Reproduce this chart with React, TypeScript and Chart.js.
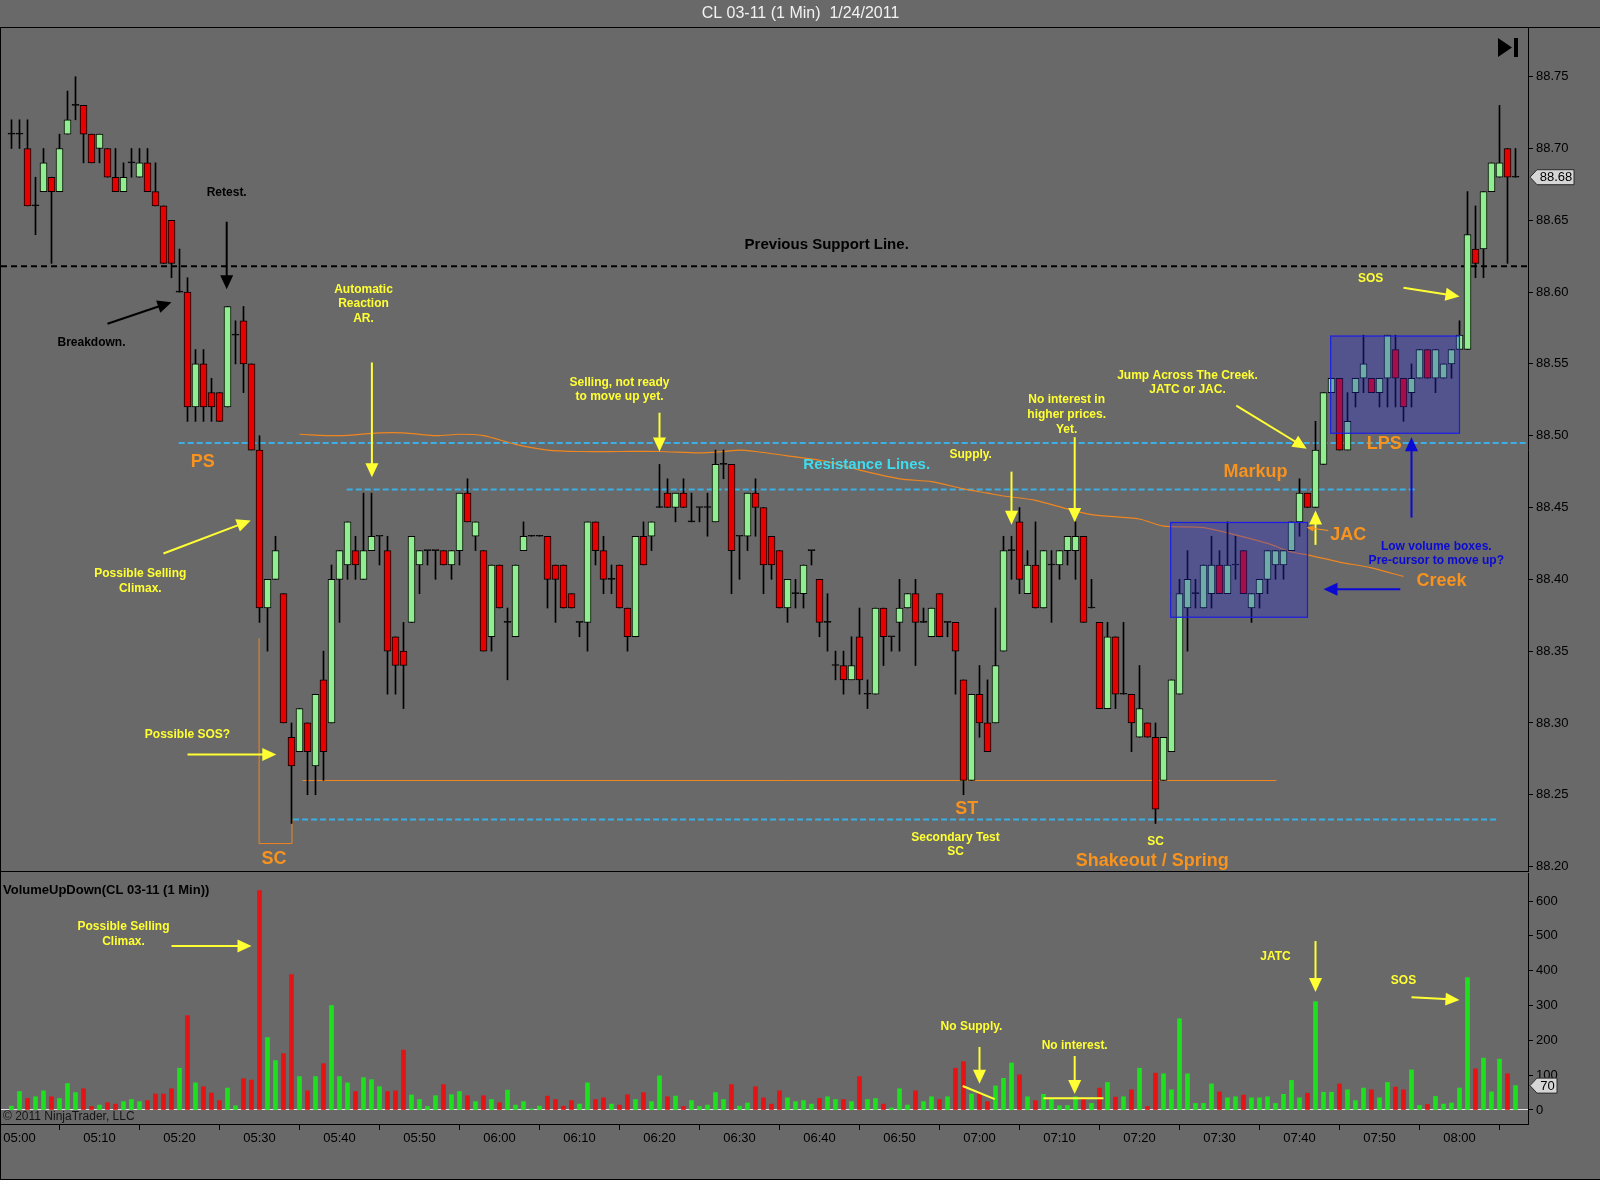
import React, { useEffect, useRef } from 'react';
import { Chart, registerables } from 'chart.js';

Chart.register(...registerables);

const FAMILY = "'Liberation Sans', Arial, Helvetica, sans-serif";
Chart.defaults.font.family = FAMILY;
Chart.defaults.color = '#000';

const TITLE = 'CL 03-11 (1 Min)  1/24/2011';
const VOLUME_TITLE = 'VolumeUpDown(CL 03-11 (1 Min))';
const COPYRIGHT = '\u00A9 2011 NinjaTrader, LLC';

// first bar is 04:59 (minute -1 relative to 05:00)
const FIRST_MINUTE = -1;

const opens = [
  88.71, 88.71, 88.70, 88.66, 88.67, 88.68, 88.67, 88.71, 88.73, 88.73,
  88.71, 88.70, 88.70, 88.68, 88.67, 88.69, 88.68, 88.69, 88.67, 88.66,
  88.65, 88.60, 88.60, 88.52, 88.55, 88.53, 88.53, 88.52, 88.57, 88.58,
  88.55, 88.49, 88.38, 88.40, 88.39, 88.29, 88.28, 88.30, 88.27, 88.33,
  88.30, 88.40, 88.41, 88.42, 88.40, 88.42, 88.43, 88.42, 88.36, 88.35,
  88.37, 88.41, 88.42, 88.42, 88.42, 88.41, 88.42, 88.46, 88.43, 88.42,
  88.36, 88.41, 88.37, 88.36, 88.42, 88.43, 88.43, 88.43, 88.41, 88.41,
  88.39, 88.37, 88.37, 88.44, 88.42, 88.40, 88.41, 88.38, 88.36, 88.43,
  88.43, 88.45, 88.46, 88.45, 88.46, 88.44, 88.45, 88.45, 88.44, 88.48,
  88.48, 88.43, 88.43, 88.46, 88.45, 88.43, 88.42, 88.38, 88.39, 88.39,
  88.42, 88.40, 88.37, 88.34, 88.34, 88.33, 88.36, 88.32, 88.32, 88.38,
  88.36, 88.37, 88.38, 88.39, 88.37, 88.36, 88.39, 88.37, 88.37, 88.33,
  88.26, 88.32, 88.30, 88.30, 88.35, 88.42, 88.44, 88.39, 88.41, 88.38,
  88.41, 88.41, 88.42, 88.42, 88.43, 88.38, 88.37, 88.31, 88.36, 88.32,
  88.32, 88.29, 88.30, 88.29, 88.26, 88.28, 88.32, 88.38, 88.39, 88.38,
  88.39, 88.41, 88.39, 88.41, 88.42, 88.38, 88.39, 88.40, 88.41, 88.41,
  88.42, 88.44, 88.46, 88.45, 88.48, 88.53, 88.54, 88.49, 88.53, 88.54,
  88.54, 88.53, 88.54, 88.56, 88.54, 88.53, 88.54, 88.56, 88.54, 88.54,
  88.55, 88.56, 88.56, 88.63, 88.63, 88.67, 88.68, 88.70, 88.68,
];

const highs = [
  88.72, 88.72, 88.72, 88.68, 88.70, 88.68, 88.71, 88.74, 88.75, 88.73,
  88.71, 88.71, 88.70, 88.70, 88.69, 88.70, 88.70, 88.70, 88.69, 88.66,
  88.65, 88.63, 88.61, 88.56, 88.56, 88.54, 88.53, 88.59, 88.58, 88.59,
  88.55, 88.50, 88.40, 88.43, 88.39, 88.30, 88.31, 88.30, 88.32, 88.35,
  88.41, 88.42, 88.44, 88.43, 88.46, 88.46, 88.43, 88.43, 88.36, 88.37,
  88.43, 88.42, 88.42, 88.42, 88.42, 88.42, 88.46, 88.47, 88.44, 88.42,
  88.41, 88.41, 88.38, 88.41, 88.44, 88.43, 88.43, 88.43, 88.41, 88.41,
  88.39, 88.37, 88.44, 88.44, 88.43, 88.41, 88.41, 88.38, 88.43, 88.44,
  88.44, 88.48, 88.47, 88.46, 88.47, 88.46, 88.45, 88.46, 88.49, 88.49,
  88.48, 88.43, 88.46, 88.47, 88.45, 88.43, 88.42, 88.40, 88.40, 88.41,
  88.42, 88.40, 88.39, 88.35, 88.35, 88.36, 88.38, 88.33, 88.38, 88.38,
  88.36, 88.40, 88.39, 88.40, 88.38, 88.38, 88.39, 88.37, 88.37, 88.33,
  88.32, 88.34, 88.33, 88.38, 88.43, 88.43, 88.45, 88.42, 88.44, 88.42,
  88.42, 88.42, 88.43, 88.44, 88.43, 88.40, 88.37, 88.37, 88.36, 88.37,
  88.32, 88.34, 88.30, 88.30, 88.29, 88.33, 88.40, 88.42, 88.40, 88.41,
  88.43, 88.42, 88.44, 88.43, 88.42, 88.39, 88.40, 88.42, 88.42, 88.42,
  88.44, 88.47, 88.46, 88.51, 88.53, 88.54, 88.54, 88.53, 88.54, 88.57,
  88.54, 88.54, 88.57, 88.57, 88.54, 88.55, 88.56, 88.56, 88.56, 88.55,
  88.56, 88.58, 88.67, 88.66, 88.67, 88.69, 88.73, 88.70, 88.70,
];

const lows = [
  88.70, 88.70, 88.66, 88.64, 88.67, 88.62, 88.67, 88.71, 88.72, 88.69,
  88.69, 88.69, 88.68, 88.67, 88.67, 88.68, 88.68, 88.67, 88.66, 88.62,
  88.61, 88.60, 88.51, 88.51, 88.51, 88.51, 88.51, 88.52, 88.55, 88.53,
  88.49, 88.37, 88.35, 88.40, 88.30, 88.23, 88.28, 88.25, 88.25, 88.26,
  88.30, 88.37, 88.40, 88.40, 88.40, 88.42, 88.41, 88.32, 88.32, 88.31,
  88.37, 88.39, 88.41, 88.40, 88.41, 88.40, 88.41, 88.44, 88.42, 88.35,
  88.35, 88.38, 88.33, 88.36, 88.42, 88.43, 88.43, 88.38, 88.37, 88.38,
  88.38, 88.36, 88.35, 88.41, 88.39, 88.39, 88.38, 88.35, 88.36, 88.41,
  88.42, 88.45, 88.45, 88.44, 88.45, 88.44, 88.44, 88.43, 88.44, 88.47,
  88.39, 88.40, 88.42, 88.43, 88.39, 88.40, 88.38, 88.37, 88.38, 88.38,
  88.41, 88.36, 88.35, 88.33, 88.32, 88.33, 88.32, 88.31, 88.32, 88.34,
  88.35, 88.35, 88.38, 88.34, 88.37, 88.36, 88.36, 88.36, 88.32, 88.25,
  88.26, 88.29, 88.28, 88.30, 88.35, 88.40, 88.39, 88.39, 88.38, 88.38,
  88.37, 88.40, 88.41, 88.40, 88.37, 88.38, 88.31, 88.31, 88.31, 88.32,
  88.28, 88.29, 88.29, 88.23, 88.26, 88.28, 88.32, 88.35, 88.38, 88.38,
  88.38, 88.39, 88.39, 88.40, 88.39, 88.37, 88.38, 88.39, 88.40, 88.40,
  88.42, 88.43, 88.45, 88.45, 88.48, 88.53, 88.49, 88.49, 88.52, 88.53,
  88.53, 88.52, 88.52, 88.52, 88.51, 88.52, 88.54, 88.54, 88.53, 88.54,
  88.54, 88.56, 88.56, 88.61, 88.61, 88.67, 88.68, 88.62, 88.68,
];

const closes = [
  88.71, 88.71, 88.66, 88.66, 88.69, 88.67, 88.70, 88.72, 88.73, 88.71,
  88.69, 88.71, 88.68, 88.67, 88.68, 88.69, 88.69, 88.67, 88.66, 88.62,
  88.62, 88.60, 88.52, 88.55, 88.52, 88.52, 88.51, 88.59, 88.57, 88.55,
  88.49, 88.38, 88.40, 88.42, 88.30, 88.27, 88.31, 88.28, 88.32, 88.28,
  88.40, 88.42, 88.44, 88.41, 88.42, 88.43, 88.43, 88.35, 88.34, 88.34,
  88.43, 88.42, 88.42, 88.42, 88.41, 88.42, 88.46, 88.44, 88.44, 88.35,
  88.41, 88.38, 88.37, 88.41, 88.43, 88.43, 88.43, 88.40, 88.40, 88.38,
  88.38, 88.37, 88.44, 88.42, 88.40, 88.40, 88.38, 88.36, 88.43, 88.41,
  88.44, 88.45, 88.45, 88.46, 88.45, 88.44, 88.45, 88.45, 88.48, 88.48,
  88.42, 88.43, 88.46, 88.45, 88.41, 88.41, 88.38, 88.40, 88.39, 88.41,
  88.42, 88.37, 88.37, 88.34, 88.33, 88.34, 88.33, 88.32, 88.38, 88.36,
  88.36, 88.38, 88.39, 88.37, 88.37, 88.38, 88.36, 88.37, 88.35, 88.26,
  88.32, 88.30, 88.28, 88.34, 88.42, 88.42, 88.40, 88.41, 88.38, 88.42,
  88.41, 88.42, 88.43, 88.43, 88.37, 88.38, 88.31, 88.36, 88.32, 88.32,
  88.30, 88.31, 88.29, 88.24, 88.29, 88.33, 88.39, 88.40, 88.39, 88.41,
  88.41, 88.39, 88.41, 88.41, 88.39, 88.39, 88.40, 88.42, 88.42, 88.42,
  88.44, 88.46, 88.45, 88.49, 88.53, 88.54, 88.49, 88.51, 88.54, 88.55,
  88.53, 88.54, 88.57, 88.54, 88.52, 88.54, 88.56, 88.54, 88.56, 88.55,
  88.56, 88.57, 88.64, 88.62, 88.67, 88.69, 88.69, 88.68, 88.68,
];

const volumes = [
  11, 53, 33, 38, 55, 38, 33, 76, 50, 61,
  10, 14, 21, 17, 24, 30, 24, 27, 46, 46,
  61, 120, 271, 78, 67, 49, 27, 63, 12, 90,
  86, 630, 208, 142, 162, 389, 96, 55, 96, 133,
  300, 96, 78, 53, 93, 87, 67, 53, 55, 172,
  43, 30, 10, 41, 73, 44, 53, 41, 24, 41,
  30, 21, 57, 14, 24, 3, 11, 40, 30, 11,
  27, 17, 78, 30, 35, 17, 14, 44, 30, 50,
  24, 98, 38, 40, 10, 27, 10, 14, 50, 30,
  73, 11, 20, 67, 35, 17, 55, 35, 24, 27,
  17, 33, 38, 30, 30, 24, 96, 30, 33, 17,
  6, 61, 14, 55, 24, 38, 30, 38, 120, 139,
  46, 48, 24, 69, 91, 135, 101, 38, 27, 45,
  31, 12, 13, 38, 31, 19, 63, 79, 37, 38,
  58, 120, 10, 106, 104, 58, 262, 104, 19, 19,
  75, 52, 35, 38, 43, 35, 35, 38, 19, 45,
  85, 35, 48, 311, 51, 51, 75, 58, 27, 63,
  58, 35, 79, 66, 58, 115, 13, 16, 39, 17,
  20, 63, 380, 118, 149, 52, 146, 104, 70,
];

// orange average line (minute, price)
const maMinutes = [35, 40, 45, 48, 52, 55, 58, 62, 66, 70, 75, 80, 85, 88, 90, 92, 96, 101, 105, 110, 114, 118, 121, 123, 127, 131, 134, 140, 143, 148, 152, 156, 159, 161, 165, 169, 173];
const maValues = [88.501, 88.500, 88.502, 88.502, 88.500, 88.501, 88.500, 88.494, 88.490, 88.489, 88.489, 88.489, 88.488, 88.489, 88.490, 88.489, 88.486, 88.482, 88.476, 88.470, 88.468, 88.463, 88.460, 88.458, 88.455, 88.449, 88.445, 88.442, 88.437, 88.436, 88.431, 88.425, 88.419, 88.417, 88.412, 88.408, 88.402];

const timeTickMinutes = [0, 10, 20, 30, 40, 50, 60, 70, 80, 90, 100, 110, 120, 130, 140, 150, 160, 170, 180];
const timeTickLabels = ['05:00', '05:10', '05:20', '05:30', '05:40', '05:50', '06:00', '06:10', '06:20', '06:30', '06:40', '06:50', '07:00', '07:10', '07:20', '07:30', '07:40', '07:50', '08:00'];
const priceTicks = [88.2, 88.25, 88.3, 88.35, 88.4, 88.45, 88.5, 88.55, 88.6, 88.65, 88.7, 88.75];
const volumeTicks = [0, 100, 200, 300, 400, 500, 600];

// horizontal levels drawn on the chart
const PREVIOUS_SUPPORT = 88.618;
const RESISTANCE_UPPER = 88.495;
const RESISTANCE_LOWER = 88.4626;
const SC_LOW_LEVEL = 88.2328;
const SPRING_LEVEL = 88.26;

// axis windows
const X_MIN = -2.3125;
const X_MAX = 188.5625;
const PRICE_MIN = 88.1962;
const PRICE_MAX = 88.7839;
const VOL_MIN = -40.2;
const VOL_MAX = 680.4;

const YEL = '#ffff33';
const ORA = '#f7931e';
const BLU = '#0a0ad2';
const CYA = '#3fdcf0';
const BLK = '#000000';

type Note = { lines: string[]; t: number; v: number; color: string; size: number; lh?: number };
type Arrow = { t1: number; v1: number; t2: number; v2: number; color: string; w?: number; head?: number; hw?: number };

const priceNotes: Note[] = [
  { lines: ['Retest.'], t: 25.9, v: 88.669, color: BLK, size: 12 },
  { lines: ['Breakdown.'], t: 9.0, v: 88.565, color: BLK, size: 12 },
  { lines: ['Previous Support Line.'], t: 100.9, v: 88.633, color: BLK, size: 15 },
  { lines: ['Automatic', 'Reaction', 'AR.'], t: 43.0, v: 88.602, color: YEL, size: 12, lh: 14.5 },
  { lines: ['Possible Selling', 'Climax.'], t: 15.1, v: 88.404, color: YEL, size: 12, lh: 15 },
  { lines: ['Possible SOS?'], t: 21.0, v: 88.292, color: YEL, size: 12 },
  { lines: ['Selling, not ready', 'to move up yet.'], t: 75.0, v: 88.537, color: YEL, size: 12, lh: 14.5 },
  { lines: ['Supply.'], t: 118.9, v: 88.487, color: YEL, size: 12 },
  { lines: ['No interest in', 'higher prices.', 'Yet.'], t: 130.9, v: 88.525, color: YEL, size: 12, lh: 14.8 },
  { lines: ['Jump Across The Creek.', 'JATC or JAC.'], t: 146.0, v: 88.542, color: YEL, size: 12, lh: 14.5 },
  { lines: ['SOS'], t: 168.9, v: 88.609, color: YEL, size: 12 },
  { lines: ['Secondary Test', 'SC'], t: 117.0, v: 88.22, color: YEL, size: 12, lh: 14 },
  { lines: ['SC'], t: 142.0, v: 88.217, color: YEL, size: 12 },
  { lines: ['PS'], t: 22.9, v: 88.482, color: ORA, size: 18 },
  { lines: ['SC'], t: 31.8, v: 88.205, color: ORA, size: 18 },
  { lines: ['ST'], t: 118.4, v: 88.24, color: ORA, size: 18 },
  { lines: ['Shakeout / Spring'], t: 141.6, v: 88.204, color: ORA, size: 18 },
  { lines: ['Markup'], t: 154.5, v: 88.475, color: ORA, size: 18 },
  { lines: ['JAC'], t: 166.1, v: 88.431, color: ORA, size: 18 },
  { lines: ['LPS'], t: 170.6, v: 88.494, color: ORA, size: 18 },
  { lines: ['Creek'], t: 177.75, v: 88.399, color: ORA, size: 18 },
  { lines: ['Resistance Lines.'], t: 105.9, v: 88.48, color: CYA, size: 15 },
  { lines: ['Low volume boxes.', 'Pre-cursor to move up?'], t: 177.1, v: 88.423, color: BLU, size: 12, lh: 14 },
];

const priceArrows: Arrow[] = [
  { t1: 25.9, v1: 88.649, t2: 25.9, v2: 88.602, color: BLK },
  { t1: 11, v1: 88.578, t2: 19, v2: 88.593, color: BLK },
  { t1: 44.05, v1: 88.551, t2: 44.05, v2: 88.471, color: YEL },
  { t1: 18, v1: 88.418, t2: 28.9, v2: 88.441, color: YEL },
  { t1: 21, v1: 88.278, t2: 32.1, v2: 88.278, color: YEL },
  { t1: 80, v1: 88.516, t2: 80, v2: 88.489, color: YEL },
  { t1: 124, v1: 88.475, t2: 124, v2: 88.438, color: YEL },
  { t1: 131.9, v1: 88.499, t2: 131.9, v2: 88.44, color: YEL },
  { t1: 152.1, v1: 88.521, t2: 160.9, v2: 88.491, color: YEL },
  { t1: 173, v1: 88.603, t2: 180, v2: 88.597, color: YEL },
  { t1: 162, v1: 88.424, t2: 162, v2: 88.448, color: YEL },
  { t1: 172.6, v1: 88.393, t2: 163, v2: 88.393, color: BLU },
  { t1: 174, v1: 88.443, t2: 174, v2: 88.499, color: BLU },
  { t1: 163.6, v1: 88.434, t2: 160.9, v2: 88.436, color: ORA, w: 1.2, head: 7, hw: 3 },
];

const boxes = [
  { t1: 143.9, t2: 161.0, p1: 88.3736, p2: 88.4396 },
  { t1: 163.9, t2: 180.0, p1: 88.5017, p2: 88.5694 },
];

const volumeNotes: Note[] = [
  { lines: ['Possible Selling', 'Climax.'], t: 13, v: 527, color: YEL, size: 12, lh: 15 },
  { lines: ['No Supply.'], t: 119, v: 240, color: YEL, size: 12 },
  { lines: ['No interest.'], t: 131.9, v: 184, color: YEL, size: 12 },
  { lines: ['JATC'], t: 157, v: 439, color: YEL, size: 12 },
  { lines: ['SOS'], t: 173, v: 370, color: YEL, size: 12 },
];

const volumeArrows: Arrow[] = [
  { t1: 19, v1: 471, t2: 29, v2: 471, color: YEL },
  { t1: 120, v1: 181, t2: 120, v2: 75, color: YEL },
  { t1: 131.9, v1: 155, t2: 131.9, v2: 46, color: YEL },
  { t1: 162, v1: 485, t2: 162, v2: 339, color: YEL },
  { t1: 174, v1: 324, t2: 180, v2: 316, color: YEL },
];

const volumeLines = [
  { t1: 117.9, v1: 69, t2: 121.9, v2: 31 },
  { t1: 128, v1: 34, t2: 135.5, v2: 34 },
];

function drawArrow(ctx: CanvasRenderingContext2D, x1: number, y1: number, x2: number, y2: number, color: string, w = 2, head = 14, hw = 6.5) {
  const a = Math.atan2(y2 - y1, x2 - x1);
  const bx = x2 - Math.cos(a) * head;
  const by = y2 - Math.sin(a) * head;
  ctx.save();
  ctx.strokeStyle = color;
  ctx.lineWidth = w;
  ctx.beginPath();
  ctx.moveTo(x1, y1);
  ctx.lineTo(x2 - Math.cos(a) * head * 0.7, y2 - Math.sin(a) * head * 0.7);
  ctx.stroke();
  ctx.fillStyle = color;
  ctx.beginPath();
  ctx.moveTo(x2, y2);
  ctx.lineTo(bx + Math.sin(a) * hw, by - Math.cos(a) * hw);
  ctx.lineTo(bx - Math.sin(a) * hw, by + Math.cos(a) * hw);
  ctx.closePath();
  ctx.fill();
  ctx.restore();
}

function drawNotes(ctx: CanvasRenderingContext2D, xs: any, ys: any, notes: Note[]) {
  ctx.save();
  ctx.textAlign = 'center';
  ctx.textBaseline = 'middle';
  for (const n of notes) {
    ctx.font = `bold ${n.size}px ${FAMILY}`;
    ctx.fillStyle = n.color;
    const x = xs.getPixelForValue(n.t);
    const y = ys.getPixelForValue(n.v);
    n.lines.forEach((s, i) => ctx.fillText(s, x, y + i * (n.lh || n.size * 1.2)));
  }
  ctx.restore();
}

function drawArrows(ctx: CanvasRenderingContext2D, xs: any, ys: any, arrows: Arrow[]) {
  for (const a of arrows) {
    drawArrow(ctx, xs.getPixelForValue(a.t1), ys.getPixelForValue(a.v1), xs.getPixelForValue(a.t2), ys.getPixelForValue(a.v2), a.color, a.w || 2, a.head || 14, a.hw || 6.5);
  }
}

function drawMarker(ctx: CanvasRenderingContext2D, x0: number, y: number, w: number, text: string) {
  ctx.save();
  ctx.beginPath();
  ctx.moveTo(x0, y);
  ctx.lineTo(x0 + 7, y - 7.5);
  ctx.lineTo(x0 + w, y - 7.5);
  ctx.lineTo(x0 + w, y + 7.5);
  ctx.lineTo(x0 + 7, y + 7.5);
  ctx.closePath();
  ctx.fillStyle = '#d6d6d6';
  ctx.fill();
  ctx.strokeStyle = '#2a2a2a';
  ctx.lineWidth = 1;
  ctx.stroke();
  ctx.fillStyle = '#000';
  ctx.font = `13px ${FAMILY}`;
  ctx.textAlign = 'center';
  ctx.textBaseline = 'middle';
  ctx.fillText(text, x0 + 4 + w / 2, y + 0.5);
  ctx.restore();
}

const BG = '#696969';

const priceDecor = {
  id: 'priceDecor',
  beforeDraw(chart: any) {
    const { ctx, width, height } = chart;
    ctx.save();
    ctx.fillStyle = BG;
    ctx.fillRect(0, 0, width, height);
    ctx.restore();
  },
  beforeDatasetsDraw(chart: any) {
    const { ctx, chartArea } = chart;
    const xs = chart.scales.x;
    const ys = chart.scales.y;
    const X = (t: number) => xs.getPixelForValue(t);
    const Y = (p: number) => ys.getPixelForValue(p);
    ctx.save();
    // previous support (black dashed)
    ctx.strokeStyle = '#000';
    ctx.lineWidth = 2;
    ctx.setLineDash([6, 4]);
    ctx.beginPath();
    ctx.moveTo(chartArea.left, Y(PREVIOUS_SUPPORT));
    ctx.lineTo(chartArea.right, Y(PREVIOUS_SUPPORT));
    ctx.stroke();
    // cyan dashed resistance / low lines
    ctx.strokeStyle = '#3ab0e6';
    ctx.setLineDash([6, 3]);
    const cyanLines = [
      [RESISTANCE_UPPER, 19.9, X_MAX],
      [RESISTANCE_LOWER, 40.9, 174.6],
      [SC_LOW_LEVEL, 34.2, 184.7],
    ];
    for (const [p, a, b] of cyanLines) {
      ctx.beginPath();
      ctx.moveTo(X(a), Y(p));
      ctx.lineTo(X(b), Y(p));
      ctx.stroke();
    }
    ctx.setLineDash([]);
    // orange spring line and SC bracket
    ctx.strokeStyle = '#f0861f';
    ctx.lineWidth = 1;
    ctx.beginPath();
    ctx.moveTo(X(35.4), Math.round(Y(SPRING_LEVEL)) + 0.5);
    ctx.lineTo(X(157.1), Math.round(Y(SPRING_LEVEL)) + 0.5);
    ctx.stroke();
    ctx.beginPath();
    ctx.moveTo(X(29.95), Y(88.359));
    ctx.lineTo(X(29.95), Y(88.216));
    ctx.lineTo(X(34.06), Y(88.216));
    ctx.lineTo(X(34.06), Y(SC_LOW_LEVEL));
    ctx.stroke();
    ctx.restore();
  },
  afterDatasetsDraw(chart: any) {
    const { ctx } = chart;
    const xs = chart.scales.x;
    const ys = chart.scales.y;
    ctx.save();
    for (const b of boxes) {
      const x1 = xs.getPixelForValue(b.t1);
      const x2 = xs.getPixelForValue(b.t2);
      const y1 = ys.getPixelForValue(b.p2);
      const y2 = ys.getPixelForValue(b.p1);
      ctx.fillStyle = 'rgba(40, 40, 215, 0.33)';
      ctx.fillRect(x1, y1, x2 - x1, y2 - y1);
      ctx.strokeStyle = '#1c1ce6';
      ctx.lineWidth = 1.2;
      ctx.strokeRect(x1, y1, x2 - x1, y2 - y1);
    }
    ctx.restore();
    drawArrows(ctx, xs, ys, priceArrows);
    drawNotes(ctx, xs, ys, priceNotes);
  },
  afterDraw(chart: any) {
    const { ctx, chartArea, width } = chart;
    ctx.save();
    ctx.strokeStyle = '#000';
    ctx.lineWidth = 1;
    ctx.beginPath();
    ctx.moveTo(0, chartArea.top - 0.5);
    ctx.lineTo(width, chartArea.top - 0.5);
    ctx.moveTo(0.5, chartArea.top);
    ctx.lineTo(0.5, chartArea.bottom);
    ctx.moveTo(0, chartArea.bottom - 0.5);
    ctx.lineTo(chartArea.right, chartArea.bottom - 0.5);
    ctx.stroke();
    // "go to end" icon
    ctx.fillStyle = '#000';
    ctx.beginPath();
    ctx.moveTo(chartArea.right - 30, chartArea.top + 10);
    ctx.lineTo(chartArea.right - 30, chartArea.top + 29);
    ctx.lineTo(chartArea.right - 16, chartArea.top + 19.5);
    ctx.closePath();
    ctx.fill();
    ctx.fillRect(chartArea.right - 14, chartArea.top + 10, 4, 19);
    ctx.restore();
    const last = closes[closes.length - 1];
    drawMarker(ctx, chartArea.right + 2, chart.scales.y.getPixelForValue(last), 44, last.toFixed(2));
  },
};

const volumeDecor = {
  id: 'volumeDecor',
  beforeDraw(chart: any) {
    const { ctx, width, height } = chart;
    ctx.save();
    ctx.fillStyle = BG;
    ctx.fillRect(0, 0, width, height);
    ctx.restore();
  },
  afterDatasetsDraw(chart: any) {
    const { ctx } = chart;
    const xs = chart.scales.x;
    const ys = chart.scales.y;
    ctx.save();
    ctx.strokeStyle = YEL;
    ctx.lineWidth = 2;
    for (const l of volumeLines) {
      ctx.beginPath();
      ctx.moveTo(xs.getPixelForValue(l.t1), ys.getPixelForValue(l.v1));
      ctx.lineTo(xs.getPixelForValue(l.t2), ys.getPixelForValue(l.v2));
      ctx.stroke();
    }
    ctx.restore();
    drawArrows(ctx, xs, ys, volumeArrows);
    drawNotes(ctx, xs, ys, volumeNotes);
  },
  afterDraw(chart: any) {
    const { ctx, chartArea, width, height } = chart;
    const ys = chart.scales.y;
    ctx.save();
    ctx.strokeStyle = '#000';
    ctx.lineWidth = 1;
    ctx.beginPath();
    ctx.moveTo(0.5, 0);
    ctx.lineTo(0.5, height);
    ctx.moveTo(0, height - 0.5);
    ctx.lineTo(width, height - 0.5);
    ctx.moveTo(0, chartArea.bottom + 0.5);
    ctx.lineTo(chartArea.left, chartArea.bottom + 0.5);
    ctx.stroke();
    ctx.fillStyle = '#000';
    ctx.textAlign = 'left';
    ctx.textBaseline = 'middle';
    ctx.font = `bold 13px ${FAMILY}`;
    ctx.fillText(VOLUME_TITLE, chartArea.left + 2, ys.getPixelForValue(629));
    ctx.fillStyle = '#151515';
    ctx.font = `12px ${FAMILY}`;
    ctx.fillText(COPYRIGHT, chartArea.left + 2, ys.getPixelForValue(-20));
    ctx.restore();
    const lastVol = volumes[volumes.length - 1];
    drawMarker(ctx, chartArea.right + 2, ys.getPixelForValue(lastVol), 27, String(lastVol));
  },
};

export default function App() {
  const refA = useRef<HTMLCanvasElement>(null);
  const refB = useRef<HTMLCanvasElement>(null);

  useEffect(() => {
    document.body.style.margin = '0';
    document.body.style.background = BG;
    const minutes = opens.map((_, i) => FIRST_MINUTE + i);
    const up = opens.map((o, i) => closes[i] >= o);
    const bodyColors = opens.map((o, i) => (closes[i] === o ? '#000000' : closes[i] > o ? '#90ee90' : '#e60000'));

    const chartA = new Chart(refA.current as HTMLCanvasElement, {
      type: 'bar',
      data: {
        datasets: [
          {
            type: 'line',
            data: maMinutes.map((m, i) => ({ x: m, y: maValues[i] })),
            borderColor: '#f0861f',
            borderWidth: 1.2,
            pointRadius: 0,
            tension: 0.25,
            order: 3,
          } as any,
          {
            data: minutes.map((m, i) => ({ x: m, y: [lows[i], highs[i]] })),
            backgroundColor: '#000',
            borderWidth: 0,
            barThickness: 1,
            minBarLength: 1,
            grouped: false,
            order: 2,
          } as any,
          {
            data: minutes.map((m, i) => ({ x: m, y: [opens[i], closes[i]] })),
            backgroundColor: bodyColors,
            borderColor: '#000',
            borderWidth: 1,
            borderSkipped: false,
            barThickness: 7,
            minBarLength: 1,
            grouped: false,
            order: 1,
          } as any,
        ],
      },
      options: {
        responsive: false,
        animation: false,
        events: [],
        layout: { padding: { left: 1, right: 0, top: 0, bottom: 0 } },
        plugins: {
          legend: { display: false },
          tooltip: { enabled: false },
          title: {
            display: true,
            text: TITLE,
            color: '#f2f2f2',
            font: { size: 16, weight: 'normal', family: FAMILY },
            padding: { top: 4, bottom: 4.8 },
          },
        },
        scales: {
          x: { type: 'linear', min: X_MIN, max: X_MAX, offset: false, display: false },
          y: {
            type: 'linear',
            position: 'right',
            min: PRICE_MIN,
            max: PRICE_MAX,
            afterBuildTicks: (s: any) => {
              s.ticks = priceTicks.map((v) => ({ value: v }));
            },
            afterFit: (s: any) => {
              s.width = 72;
              s.paddingTop = 0;
              s.paddingBottom = 0;
            },
            ticks: {
              autoSkip: false,
              color: '#000',
              padding: 3,
              font: { size: 13 },
              callback: (v: any) => Number(v).toFixed(2),
            },
            grid: { drawOnChartArea: false, drawTicks: true, tickLength: 5, tickColor: '#000', color: '#000' },
            border: { display: true, color: '#000', width: 1 },
          },
        },
      } as any,
      plugins: [priceDecor],
    });

    const chartB = new Chart(refB.current as HTMLCanvasElement, {
      type: 'bar',
      data: {
        datasets: [
          {
            data: minutes.map((m, i) => ({ x: m, y: volumes[i] })),
            backgroundColor: up.map((u) => (u ? '#1ee01e' : '#e41414')),
            borderWidth: 0,
            barThickness: 4,
            grouped: false,
          } as any,
        ],
      },
      options: {
        responsive: false,
        animation: false,
        events: [],
        layout: { padding: { left: 1, top: 1, right: 0, bottom: 0 } },
        plugins: { legend: { display: false }, tooltip: { enabled: false } },
        scales: {
          x: {
            type: 'linear',
            position: 'bottom',
            min: X_MIN,
            max: X_MAX,
            offset: false,
            afterBuildTicks: (s: any) => {
              s.ticks = timeTickMinutes.map((v) => ({ value: v }));
            },
            afterFit: (s: any) => {
              s.height = 56;
              s.paddingLeft = 0;
              s.paddingRight = 0;
            },
            ticks: {
              autoSkip: false,
              maxRotation: 0,
              color: '#000',
              padding: 1,
              font: { size: 13 },
              callback: (_v: any, i: number) => timeTickLabels[i],
            },
            grid: { drawOnChartArea: false, tickLength: 6, tickColor: '#000' },
            border: { display: true, color: '#000' },
          },
          y: {
            type: 'linear',
            position: 'right',
            min: VOL_MIN,
            max: VOL_MAX,
            afterBuildTicks: (s: any) => {
              s.ticks = volumeTicks.map((v) => ({ value: v }));
            },
            afterFit: (s: any) => {
              s.width = 72;
              s.paddingTop = 0;
              s.paddingBottom = 0;
            },
            ticks: {
              autoSkip: false,
              color: '#000',
              padding: 3,
              font: { size: 13 },
              callback: (v: any) => String(v),
            },
            grid: {
              drawOnChartArea: true,
              tickLength: 5,
              tickColor: '#000',
              color: (c: any) => (c.tick && c.tick.value === 0 ? '#e2e2e2' : 'rgba(0,0,0,0)'),
            },
            border: { display: true, color: '#000' },
          },
        },
      } as any,
      plugins: [volumeDecor],
    });

    return () => {
      chartA.destroy();
      chartB.destroy();
    };
  }, []);

  return (
    <div style={{ width: 1600, height: 1180, overflow: 'hidden', background: BG }}>
      <canvas ref={refA} width={1600} height={872} style={{ display: 'block', width: 1600, height: 872 }} />
      <canvas ref={refB} width={1600} height={308} style={{ display: 'block', width: 1600, height: 308 }} />
    </div>
  );
}
